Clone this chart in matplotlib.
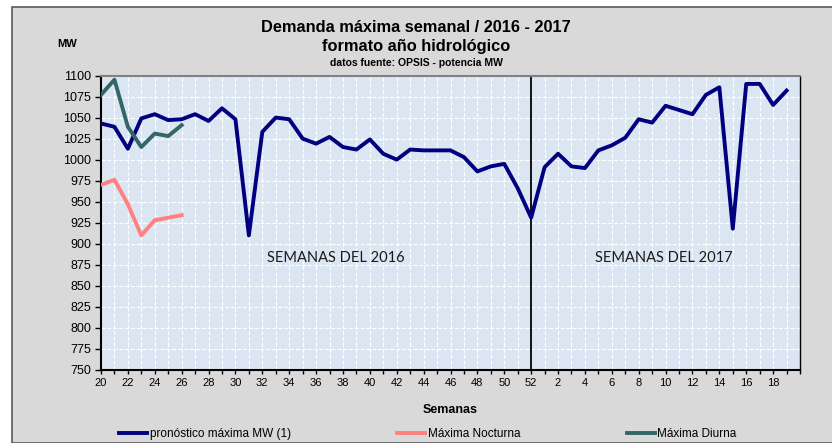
import matplotlib.pyplot as plt
from matplotlib.patches import Rectangle

# semanas del año hidrológico (20/2016 ... 20/2017)
semanas = list(range(20, 53)) + list(range(1, 21))

pronostico = [1043, 1039, 1013, 1049, 1054, 1047, 1048, 1054, 1046, 1061,
              1048, 910, 1033, 1050, 1048, 1025, 1019, 1027, 1015, 1012,
              1024, 1007, 1000, 1012, 1011, 1011, 1011, 1003, 986, 992,
              995, 966, 931, 991, 1007, 992, 990, 1011, 1017, 1026,
              1048, 1044, 1064, 1059, 1054, 1077, 1086, 918, 1090, 1090,
              1065, 1082]
nocturna = [970, 976, 947, 910, 928, 931, 934]
diurna = [1077, 1095, 1039, 1015, 1031, 1028, 1041]

plt.rcParams['font.family'] = ['Liberation Sans', 'DejaVu Sans']

fig = plt.figure(figsize=(8.32, 4.43), dpi=100)
fig.patch.set_facecolor('white')
# recuadro gris del gráfico
fig.patches.append(Rectangle((12 / 832, 0), 1, 1 - 7 / 443, transform=fig.transFigure,
                             facecolor='#D9D9D9', edgecolor='#595959', linewidth=1.2, zorder=-5))

ax = fig.add_axes([101 / 832, 1 - 370 / 443, 699 / 832, 294.5 / 443])
ax.set_facecolor('#DCE6F2')

x = list(range(len(semanas)))
ax.plot(x[:len(pronostico)], pronostico, color='#000080', linewidth=2.8,
        label='pronóstico máxima MW (1)', zorder=3)
ax.plot(x[:len(nocturna)], nocturna, color='#FF8080', linewidth=2.8,
        label='Máxima Nocturna', zorder=3)
ax.plot(x[:len(diurna)], diurna, color='#336666', linewidth=2.8,
        label='Máxima Diurna', zorder=3)

# separación entre años (semana 52)
ax.axvline(semanas.index(52), color='black', linewidth=1.3, zorder=2)

ax.set_xlim(0, len(semanas) - 1)
ax.set_ylim(750, 1100)
ax.set_yticks(range(750, 1101, 25))
ax.set_xticks(x[:-1:2])
ax.set_xticklabels([str(s) for s in semanas[:-1:2]], fontsize=8)
ax.set_xticks(x, minor=True)
ax.tick_params(axis='y', labelsize=9, length=4, width=1, direction='out', pad=3)
ax.tick_params(axis='x', which='both', length=3, width=1, direction='out', pad=3)

ax.grid(True, which='both', axis='x', color='white', linestyle='--', linewidth=0.8, zorder=1)
ax.grid(True, which='major', axis='y', color='white', linestyle='--', linewidth=0.8, zorder=1)
ax.set_axisbelow(True)

for side in ['left', 'bottom']:
    ax.spines[side].set_color('black')
    ax.spines[side].set_linewidth(1.5)
ax.spines['top'].set_color('#808080')
ax.spines['top'].set_linewidth(1.5)
ax.spines['right'].set_color('black')
ax.spines['right'].set_linewidth(1)

ax.text(17.5, 883, 'SEMANAS DEL 2016', fontsize=10.5, family=['Lato', 'DejaVu Sans'],
        ha='center', va='center', color='#1a1a1a')
ax.text(41.9, 883, 'SEMANAS DEL 2017', fontsize=10.5, family=['Lato', 'DejaVu Sans'],
        ha='center', va='center', color='#1a1a1a')

ax.set_xlabel('Semanas', fontsize=9, fontweight='bold', labelpad=11)

fig.text(0.5, 1 - 27 / 443, 'Demanda máxima semanal / 2016 - 2017', ha='center', va='center',
         fontsize=11.8, fontweight='bold')
fig.text(0.5, 1 - 46 / 443, 'formato año hidrológico', ha='center', va='center',
         fontsize=11.8, fontweight='bold')
fig.text(0.5, 1 - 63 / 443, 'datos fuente: OPSIS - potencia MW', ha='center', va='center',
         fontsize=7.5, fontweight='bold')
fig.text(57 / 832, 1 - 44 / 443, 'MW', ha='left', va='center', fontsize=8, fontweight='bold')

leg = fig.legend(loc='center left', bbox_to_anchor=(119 / 832, 1 - 434 / 443), ncol=3,
                 frameon=False, fontsize=8.5, handlelength=2.4, handletextpad=0.2,
                 columnspacing=9.0, borderaxespad=0, borderpad=0)

fig.savefig('out.png', dpi=100, facecolor=fig.get_facecolor())
